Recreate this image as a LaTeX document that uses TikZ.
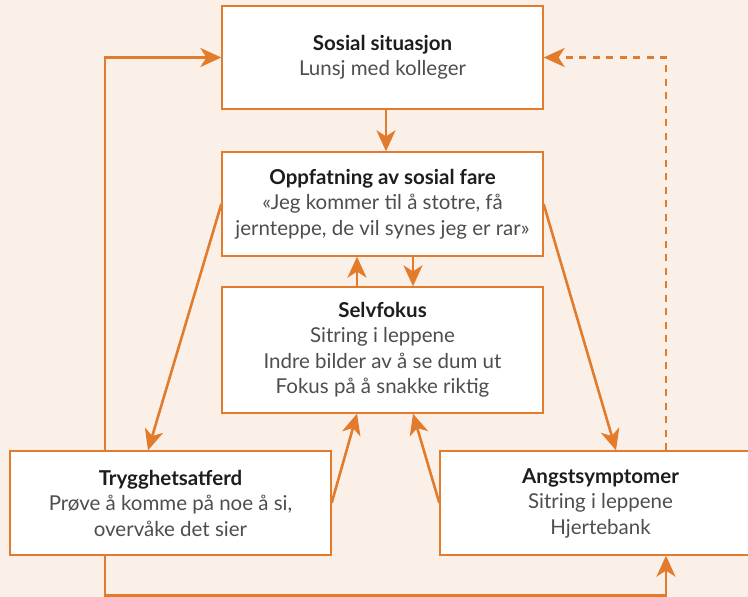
\documentclass[tikz,border=0pt]{standalone}
\usepackage{fontspec}
\setmainfont{Lato}
\usetikzlibrary{arrows.meta}
\definecolor{bgc}{RGB}{251,240,232}
\definecolor{orc}{RGB}{226,124,44}
\definecolor{titlec}{RGB}{30,28,30}
\definecolor{bodyc}{RGB}{78,78,80}
\tikzset{
  boxnode/.style={draw=orc, line width=1.3pt, fill=white, minimum width=321pt, align=center,
    inner sep=0pt, text=bodyc, font=\fontsize{20.5}{25.5}\selectfont},
  conn/.style={draw=orc, line width=2.6pt, -{Stealth[length=21pt,width=19pt,inset=6pt]}},
  dashconn/.style={conn, dash pattern=on 7pt off 6.5pt},
  plainconn/.style={draw=orc, line width=2.6pt}
}
\newcommand{\ttl}[1]{{\color{titlec}\bfseries #1}}
\begin{document}
\begin{tikzpicture}[x=1pt,y=-1pt]
\path[use as bounding box, fill=bgc] (0,0) rectangle (748,597);
\clip (0,0) rectangle (748,597);
\node[boxnode, minimum height=103pt] (b1) at (382.5,57.5) {\ttl{Sosial situasjon}\\Lunsj med kolleger};
\node[boxnode, minimum height=104pt] (b2) at (382.5,204) {\ttl{Oppfatning av sosial fare}\\«Jeg kommer til å stotre, få\\jernteppe, de vil synes jeg er rar»};
\node[boxnode, minimum height=126pt] (b3) at (382.5,350) {\ttl{Selvfokus}\\Sitring i leppene\\Indre bilder av å se dum ut\\Fokus på å snakke riktig};
\node[boxnode, minimum height=104pt] (b4) at (170.5,503) {\ttl{Trygghetsatferd}\\Prøve å komme på noe å si,\\overvåke det sier};
\node[boxnode, minimum height=104pt] (b5) at (600.5,503) {\ttl{Angstsymptomer}\\Sitring i leppene\\Hjertebank};
\coordinate (bot) at (0,595.5);
% vertical center arrows
\draw[conn] ([xshift=3.5pt]b1.south) -- ([xshift=3.5pt]b2.north);
\draw[conn] ([xshift=30.5pt]b2.south) -- ([xshift=30.5pt]b3.north);
\draw[conn] ([xshift=-25.5pt]b3.north) -- ([xshift=-25.5pt]b2.south);
% diagonals
\draw[conn] (b2.west) -- ([xshift=-22.5pt]b4.north);
\draw[conn] (b2.east) -- ([xshift=15.5pt]b5.north);
\draw[conn] (b4.east) -- ([xshift=-25.5pt]b3.south);
\draw[conn] (b5.west) -- ([xshift=30.5pt]b3.south);
% loops
\draw[conn] ([xshift=-65.5pt]b4.north) |- (b1.west);
\draw[dashconn] ([xshift=65.5pt]b5.north) |- (b1.east);
\draw[conn] ([xshift=-65.5pt]b4.south) -- ([xshift=-65.5pt]b4.south |- bot) -| ([xshift=65.5pt]b5.south);
\end{tikzpicture}
\end{document}
